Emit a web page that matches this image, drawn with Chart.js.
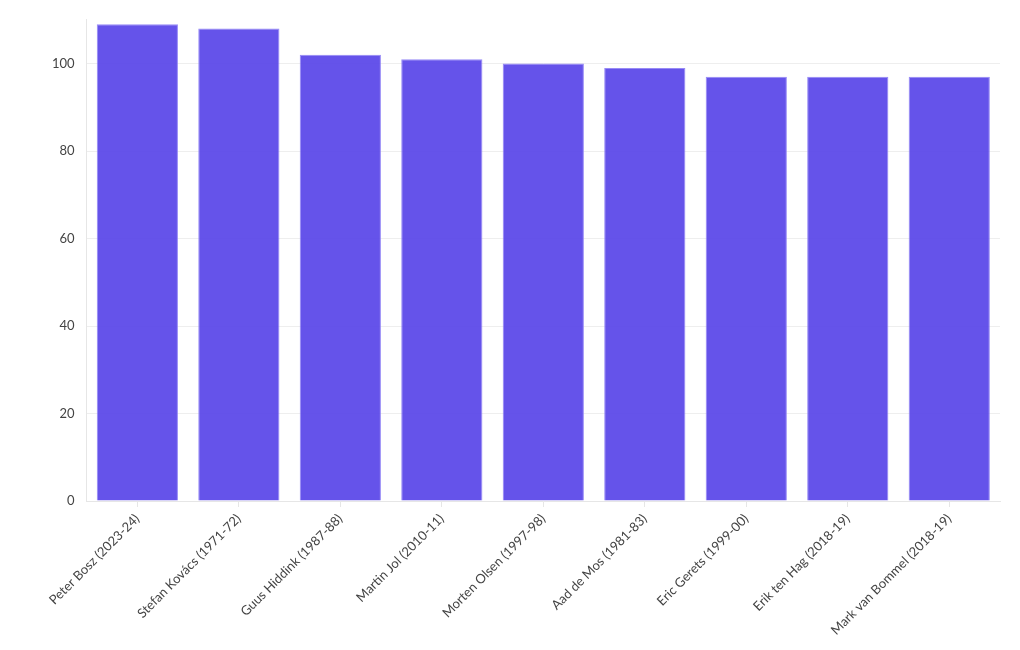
<!DOCTYPE html>
<html>
<head>
<meta charset="utf-8">
<script src="https://cdn.jsdelivr.net/npm/chart.js@4"></script>
<style>
	html, body { margin: 0; padding: 0; background: #fff; }
	.chart-box { width: 1020px; height: 650px; position: relative; }
</style>
</head>
<body>
<div class="chart-box"><canvas id="myChart"></canvas></div>
<script>
const coaches = [
	"Peter Bosz (2023-24)",
	"Stefan Kovács (1971-72)",
	"Guus Hiddink (1987-88)",
	"Martin Jol (2010-11)",
	"Morten Olsen (1997-98)",
	"Aad de Mos (1981-83)",
	"Eric Gerets (1999-00)",
	"Erik ten Hag (2018-19)",
	"Mark van Bommel (2018-19)"
];
const goals = [109, 108, 102, 101, 100, 99, 97, 97, 97];
const yTicks = [0, 20, 40, 60, 80, 100];

const ctx = document.getElementById("myChart").getContext("2d");
const tickFont = { family: "Lato, 'Noto Sans', sans-serif", size: 13 };

new Chart(ctx, {
	type: "bar",
	data: {
		labels: coaches,
		datasets: [
			{
				data: goals,
				backgroundColor: "rgba(89, 70, 232, 0.93)",
				borderColor: "rgba(140, 125, 245, 0.9)",
				borderWidth: 1,
				barPercentage: 0.8,
				categoryPercentage: 1
			}
		]
	},
	options: {
		responsive: true,
		maintainAspectRatio: false,
		animation: false,
		layout: { padding: { left: 40, right: 20, top: 18, bottom: 8 } },
		plugins: {
			legend: { display: false },
			tooltip: { enabled: false }
		},
		scales: {
			x: {
				grid: {
					display: true,
					offset: false,
					drawOnChartArea: false,
					tickLength: 6,
					color: "#e6e6e6"
				},
				border: { color: "#e6e6e6" },
				ticks: {
					color: "#444",
					font: tickFont,
					maxRotation: 45,
					minRotation: 45,
					autoSkip: false,
					padding: 4
				}
			},
			y: {
				min: 0,
				max: 110,
				afterBuildTicks: (axis) => {
					axis.ticks = yTicks.map((v) => ({ value: v }));
				},
				grid: { color: "#eeeeee", drawTicks: false },
				border: { color: "#e6e6e6" },
				ticks: {
					color: "#444",
					font: tickFont,
					padding: 12
				}
			}
		}
	}
});
</script>
</body>
</html>
